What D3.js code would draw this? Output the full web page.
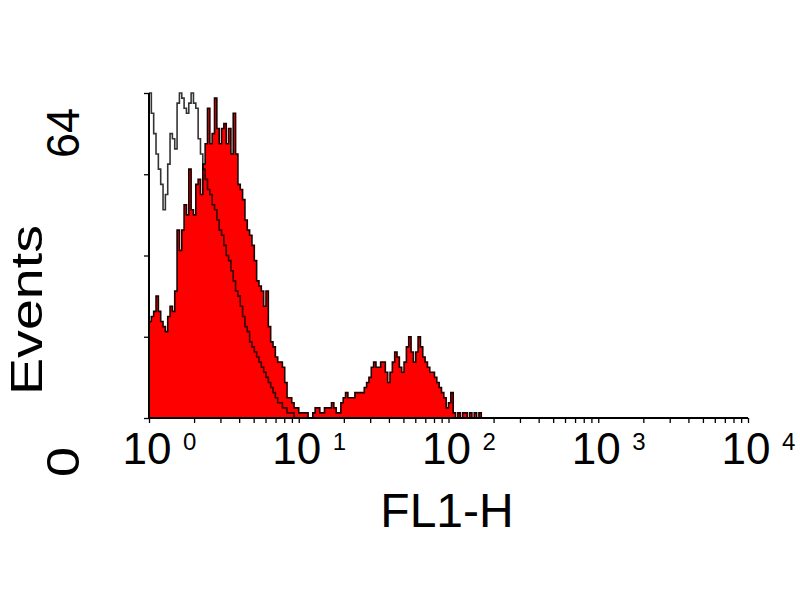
<!DOCTYPE html>
<html>
<head>
<meta charset="utf-8">
<script src="https://cdn.jsdelivr.net/npm/d3@7"></script>
<style>
  html, body { margin: 0; padding: 0; background: #fff; }
  svg { display: block; }
  text { font-family: "Liberation Sans", Arial, Helvetica, sans-serif; fill: #000; }
</style>
</head>
<body>
<svg id="chart" width="800" height="600"></svg>
<script>
// ---- data (256-channel histogram, 64 channels per decade) ----
const channelsPerDecade = 64;
// red filled histogram (stained sample), counts per channel starting at channel 0
const stainedCounts = [
  19,20,21,24,21,19,18,17,20,22, 21,25,37,33,37,42,40,49,41,40,
  46,47,44,50,54,61,54,56,63,57, 54,57,58,54,57,52,60,52,46,45,
  43,39,37,36,34,31,27,26,25,22, 25,18,15,14,12,11,11,10,7,4,
  4,3,2,2,1,1,1,1,0,0, 1,2,2,1,1,2,2,2,3,2,
  1,1,3,4,5,4,4,4,5,5, 5,5,6,7,8,10,11,10,10,11,
  11,9,7,9,11,13,12,10,9,11, 14,16,13,11,13,16,14,12,11,10,
  9,9,8,7,6,5,4,2,3,5, 1,0,1,0,1,1,0,1,0,1,
  0,1,0,0,0,0
];
// black outline histogram (control), counts per channel starting at channel 0
const controlCounts = [
  64,60,56,52,49,46,41,44,50,56, 55,53,62,64,63,61,60,62,64,62,
  61,55,52,49,47,45,44,42,41,39, 37,36,34,32,31,29,27,25,24,22,
  20,18,17,15,14,13,12,11,10,9, 8,7,6,5,4,3,3,2,2,1,
  1,1,0,0
];
const xDomain = [1, 10000];
const yDomain = [0, 64];
const xMajorTicks = [1, 10, 100, 1000, 10000];
const xTickExponents = ["0", "1", "2", "3", "4"];
const yTicks = [0, 16, 32, 48, 64];
const yTickLabels = ["0", "", "", "", "64"];
const xTitle = "FL1-H";
const yTitle = "Events";

// ---- drawing ----
const svg = d3.select("#chart");
const x = d3.scaleLog().domain(xDomain).range([149, 748]);
const y = d3.scaleLinear().domain(yDomain).range([418, 93]);

function toSteps(counts) {
  const pts = counts.map((c, i) => ({ v: Math.pow(10, i / channelsPerDecade), c }));
  pts.push({ v: Math.pow(10, counts.length / channelsPerDecade), c: 0 });
  return pts;
}

svg.append("defs").append("clipPath").attr("id", "plotclip")
  .append("rect").attr("x", 149).attr("y", 91).attr("width", 600).attr("height", 328);

const g = svg.append("g").attr("clip-path", "url(#plotclip)");

const stained = toSteps(stainedCounts);
const area = d3.area().curve(d3.curveStepAfter)
  .x(d => x(d.v)).y0(y(0)).y1(d => y(d.c));
const line = d3.line().curve(d3.curveStepAfter)
  .x(d => x(d.v)).y(d => y(d.c));

g.append("path").datum(stained)
  .attr("d", area)
  .attr("fill", "#ff0000");
g.append("path").datum(stained)
  .attr("d", line)
  .attr("fill", "none")
  .attr("stroke", "#1a0000")
  .attr("stroke-width", 1.6);

const control = toSteps(controlCounts);
g.append("path").datum(control)
  .attr("d", line)
  .attr("fill", "none")
  .attr("stroke", "#000")
  .attr("stroke-opacity", 0.8)
  .attr("stroke-width", 1.6);

// axes
const xAxis = d3.axisBottom(x)
  .tickValues(d3.range(0, 4).flatMap(k => d3.range(1, 10).map(m => m * Math.pow(10, k))).concat([10000]))
  .tickSize(5).tickFormat("");
svg.append("g").attr("transform", `translate(0,${y(0)})`).call(xAxis)
  .call(s => s.select(".domain").attr("stroke", "#000").attr("stroke-width", 2).attr("d", `M${x(1)},0H${x(10000)}`))
  .call(s => s.selectAll(".tick line").attr("stroke", "#000").attr("stroke-width", 1.3));

const yAxis = d3.axisLeft(y).tickValues(yTicks).tickSize(5).tickFormat("");
svg.append("g").attr("transform", `translate(${x(1)},0)`).call(yAxis)
  .call(s => s.select(".domain").attr("stroke", "#000").attr("stroke-width", 2).attr("d", `M0,${y(64)}V${y(0)}`))
  .call(s => s.selectAll(".tick line").attr("stroke", "#000").attr("stroke-width", 1.3));

// x tick labels: 10 with superscript
const xl = svg.append("g");
xMajorTicks.forEach((t, i) => {
  const px = x(t);
  xl.append("text").attr("x", px - 2).attr("y", 464)
    .attr("text-anchor", "middle").attr("font-size", 44).text("10");
  xl.append("text").attr("x", px + 34).attr("y", 450)
    .attr("text-anchor", "start").attr("font-size", 24).text(xTickExponents[i]);
});

// y tick labels (rotated)
const yLabelPos = { "0": { cy: 462, len: 30 }, "64": { cy: 133, len: 50 } };
yTicks.forEach((t, i) => {
  const lab = yTickLabels[i];
  if (!lab) return;
  const p = yLabelPos[lab];
  svg.append("text")
    .attr("transform", `translate(79,${p.cy}) rotate(-90)`)
    .attr("text-anchor", "middle").attr("font-size", 47)
    .attr("textLength", p.len).attr("lengthAdjust", "spacingAndGlyphs")
    .text(lab);
});

// axis titles
svg.append("text").attr("x", 447).attr("y", 527)
  .attr("text-anchor", "middle").attr("font-size", 48).text(xTitle);
svg.append("text")
  .attr("transform", "translate(42,310) rotate(-90)")
  .attr("text-anchor", "middle").attr("font-size", 45)
  .attr("textLength", 170).attr("lengthAdjust", "spacingAndGlyphs")
  .text(yTitle);
</script>
</body>
</html>
